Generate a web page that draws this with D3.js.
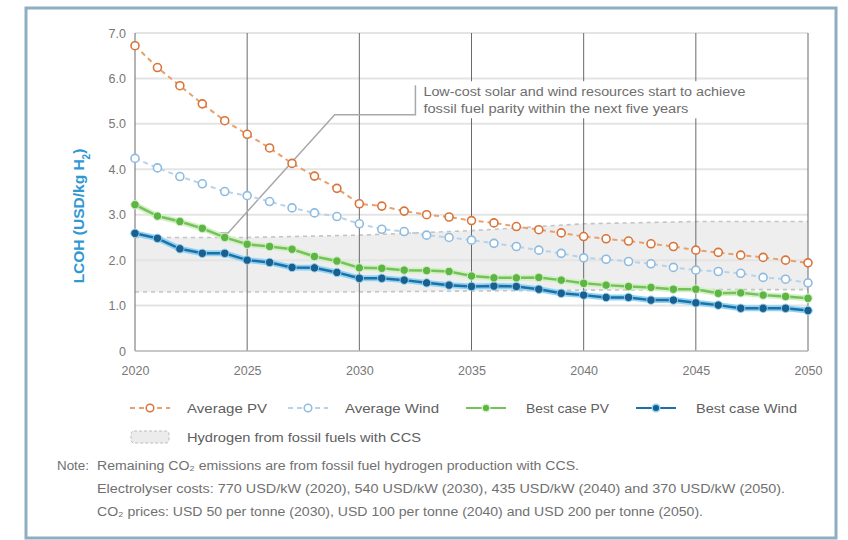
<!DOCTYPE html>
<html>
<head>
<meta charset="utf-8">
<script src="https://cdn.jsdelivr.net/npm/d3@7"></script>
<style>
  body { margin: 0; background: #fff; }
  svg text { font-family: "Liberation Sans", Arial, sans-serif; }
</style>
</head>
<body>
<div class="chart"></div>
<script>
var W = 848, H = 540;
var margin = {top: 33, right: 40, bottom: 189, left: 135};
var width = 808 - margin.left;
var height = 351 - margin.top;

// data
let years = d3.range(2020, 2051);
let averagePV = [6.72, 6.24, 5.84, 5.44, 5.07, 4.77, 4.47, 4.13, 3.85, 3.58, 3.24,
  3.19, 3.08, 3.0, 2.95, 2.87, 2.82, 2.74, 2.67, 2.6, 2.52,
  2.47, 2.42, 2.36, 2.3, 2.22, 2.17, 2.11, 2.06, 2.0, 1.94];
let averageWind = [4.24, 4.03, 3.84, 3.68, 3.51, 3.42, 3.29, 3.15, 3.04, 2.96, 2.8,
  2.68, 2.63, 2.55, 2.5, 2.44, 2.37, 2.3, 2.22, 2.15, 2.05,
  2.02, 1.97, 1.92, 1.84, 1.78, 1.75, 1.71, 1.62, 1.58, 1.5];
let bestPV = [3.22, 2.97, 2.85, 2.7, 2.5, 2.35, 2.3, 2.24, 2.08, 1.98, 1.83,
  1.82, 1.78, 1.77, 1.75, 1.65, 1.61, 1.61, 1.62, 1.56, 1.49,
  1.45, 1.42, 1.4, 1.36, 1.36, 1.27, 1.28, 1.23, 1.2, 1.16];
let bestWind = [2.59, 2.48, 2.25, 2.15, 2.15, 2.0, 1.95, 1.84, 1.83, 1.73, 1.6,
  1.6, 1.56, 1.5, 1.45, 1.42, 1.43, 1.42, 1.36, 1.27, 1.23,
  1.18, 1.18, 1.12, 1.12, 1.06, 1.01, 0.94, 0.94, 0.94, 0.89];
let fossilYears = [2020, 2025, 2030, 2035, 2040, 2045, 2050];
let fossilLow = [1.3, 1.3, 1.3, 1.32, 1.34, 1.35, 1.35];
let fossilHigh = [2.5, 2.5, 2.55, 2.65, 2.8, 2.85, 2.85];
let xTicks = [2020, 2025, 2030, 2035, 2040, 2045, 2050];
let yTicks = [0, 1, 2, 3, 4, 5, 6, 7];
let yLabels = ['0', '1.0', '2.0', '3.0', '4.0', '5.0', '6.0', '7.0'];
let annotationPath = [[2023.7, 2.6], [2024.15, 2.6], [2028.9, 5.2], [2032.5, 5.2], [2032.5, 5.85]];
let annotationText = ['Low-cost solar and wind resources start to achieve',
  'fossil fuel parity within the next five years'];
let annotationWidths = [322, 265];
let legendNames = ['Average PV', 'Average Wind', 'Best case PV', 'Best case Wind'];
let legendWidths = [80, 94, 83, 101];
let fossilLabel = 'Hydrogen from fossil fuels with CCS';
let noteLines = ['Remaining CO\u2082 emissions are from fossil fuel hydrogen production with CCS.',
  'Electrolyser costs: 770 USD/kW (2020), 540 USD/kW (2030), 435 USD/kW (2040) and 370 USD/kW (2050).',
  'CO\u2082 prices: USD 50 per tonne (2030), USD 100 per tonne (2040) and USD 200 per tonne (2050).'];
let noteWidths = [482, 688, 606];

let root = d3.select('.chart')
  .append('svg')
  .attr('width', W)
  .attr('height', H);

// frame
root.append('rect')
  .attr('x', 26).attr('y', 8)
  .attr('width', 810).attr('height', 530)
  .style('fill', 'none')
  .style('stroke', '#8daec3')
  .style('stroke-width', 3);

let svg = root.append('g')
  .attr('transform', `translate(${margin.left}, ${margin.top})`);

//scales
let xScale = d3.scaleLinear().domain([2020, 2050]).range([0, width]);
let yScale = d3.scaleLinear().domain([0, 7]).range([height, 0]);

// fossil band
let band = fossilYears.map((y, i) => ({year: y, low: fossilLow[i], high: fossilHigh[i]}));
svg.append('path')
  .datum(band)
  .attr('d', d3.area().x(d => xScale(d.year)).y0(d => yScale(d.low)).y1(d => yScale(d.high)))
  .style('fill', '#eeeeee');

// horizontal grid
svg.selectAll('.hgrid')
  .data(yTicks.filter(d => d > 0))
  .enter()
  .append('line')
  .attr('class', 'hgrid')
  .attr('x1', 0).attr('x2', width)
  .attr('y1', d => yScale(d)).attr('y2', d => yScale(d))
  .style('stroke', '#e4e4e4')
  .style('stroke-width', 2);

['low', 'high'].forEach(k => {
  svg.append('path')
    .datum(band)
    .attr('d', d3.line().x(d => xScale(d.year)).y(d => yScale(d[k])))
    .style('fill', 'none')
    .style('stroke', '#c4c4c4')
    .style('stroke-width', 1.6)
    .style('stroke-dasharray', '4,4');
});

// vertical grid
svg.selectAll('.vgrid')
  .data(xTicks)
  .enter()
  .append('line')
  .attr('class', 'vgrid')
  .attr('x1', d => xScale(d)).attr('x2', d => xScale(d))
  .attr('y1', yScale(7)).attr('y2', height)
  .style('stroke', '#6a6a6a')
  .style('stroke-width', 1);

svg.append('line')
  .attr('x1', 0).attr('x2', width)
  .attr('y1', height).attr('y2', height)
  .style('stroke', '#b5b5b5')
  .style('stroke-width', 1.5);

// axes
let xAxis = d3.axisBottom(xScale).tickValues(xTicks).tickFormat(d3.format('d')).tickSize(0).tickPadding(15);
let gx = svg.append('g').attr('transform', `translate(0, ${height})`).call(xAxis);
gx.select('.domain').remove();
gx.selectAll('text').style('fill', '#777').style('font-size', '12.5px');

let yAxis = d3.axisLeft(yScale).tickValues(yTicks).tickFormat((d, i) => yLabels[i]).tickSize(0).tickPadding(9);
let gy = svg.append('g').call(yAxis);
gy.select('.domain').remove();
gy.selectAll('text').style('fill', '#777').style('font-size', '12.5px');

let yTitle = root.append('text')
  .attr('transform', `translate(84, 216) rotate(-90)`)
  .style('text-anchor', 'middle')
  .style('fill', '#3198d3')
  .style('font-weight', 'bold')
  .style('font-size', '15.5px');
yTitle.append('tspan').text('LCOH (USD/kg H');
yTitle.append('tspan').attr('baseline-shift', 'sub').style('font-size', '10px').text('2');
yTitle.append('tspan').text(')');

// annotation
let annX = xScale(2032.5);
let annY = yScale(5.85);
svg.append('rect')
  .attr('x', annX + 1).attr('y', annY - 4)
  .attr('width', 340).attr('height', 37)
  .style('fill', '#fff');

svg.append('path')
  .datum(annotationPath)
  .attr('d', d3.line().x(d => xScale(d[0])).y(d => yScale(d[1])))
  .style('fill', 'none')
  .style('stroke', '#a8a8a8')
  .style('stroke-width', 1.5);

svg.selectAll('.annot')
  .data(annotationText)
  .enter()
  .append('text')
  .attr('x', annX + 8)
  .attr('y', (d, i) => annY + 11 + i * 17)
  .attr('textLength', (d, i) => annotationWidths[i])
  .attr('lengthAdjust', 'spacingAndGlyphs')
  .style('fill', '#6e6e6e')
  .style('font-size', '12px')
  .text(d => d);

// series
let series = [
  {values: averagePV, color: '#e8a06c', marker: '#d9743a', dash: '5,4', open: true, halo: null},
  {values: averageWind, color: '#b7d3ec', marker: '#8ebbe0', dash: '5,4', open: true, halo: null},
  {values: bestPV, color: '#76c25a', marker: '#5db544', dash: null, open: false, halo: '#d3f0c6'},
  {values: bestWind, color: '#1d6fa5', marker: '#1a5f8e', dash: null, open: false, halo: '#8fd3f4'}
];
series.forEach((s, i) => { s.name = legendNames[i]; s.labelWidth = legendWidths[i]; });

let line = d3.line().x(d => xScale(d.year)).y(d => yScale(d.v));

series.slice().reverse().forEach(s => {
  let pts = years.map((y, i) => ({year: y, v: s.values[i]}));
  let g = svg.append('g');
  if (s.halo) {
    g.append('path').datum(pts).attr('d', line)
      .style('fill', 'none').style('stroke', s.halo).style('stroke-width', 6);
  }
  g.append('path').datum(pts).attr('d', line)
    .style('fill', 'none')
    .style('stroke', s.color)
    .style('stroke-width', s.open ? 2 : 2.5)
    .style('stroke-dasharray', s.dash);
  g.selectAll('circle')
    .data(pts)
    .enter()
    .append('circle')
    .attr('cx', d => xScale(d.year))
    .attr('cy', d => yScale(d.v))
    .attr('r', s.open ? 4 : 4.2)
    .style('fill', s.open ? '#fff' : s.marker)
    .style('stroke', s.open ? s.marker : (s.halo || s.marker))
    .style('stroke-width', s.open ? 1.6 : 1);
});

// legend
let legendX = [130, 288, 466, 636];
let legend = root.selectAll('.legend')
  .data(series)
  .enter()
  .append('g')
  .attr('class', 'legend')
  .attr('transform', (d, i) => `translate(${legendX[i]}, 408)`);

legend.append('line')
  .attr('x1', 0).attr('x2', 40).attr('y1', 0).attr('y2', 0)
  .style('stroke', d => d.color)
  .style('stroke-width', 2.2)
  .style('stroke-dasharray', d => d.dash);
legend.append('circle')
  .attr('cx', 20).attr('cy', 0).attr('r', 3.8)
  .style('fill', d => d.open ? '#fff' : d.marker)
  .style('stroke', d => d.open ? d.marker : (d.halo || d.marker))
  .style('stroke-width', 1.5);
legend.append('text')
  .attr('x', (d, i) => i < 2 ? 57 : 60).attr('y', 4.5)
  .attr('textLength', d => d.labelWidth)
  .attr('lengthAdjust', 'spacingAndGlyphs')
  .style('fill', '#606060')
  .style('font-size', '13px')
  .text(d => d.name);

let fossilLegend = root.append('g').attr('transform', 'translate(131, 437)');
fossilLegend.append('rect')
  .attr('x', 0).attr('y', -6).attr('width', 38).attr('height', 12).attr('rx', 3)
  .style('fill', '#ececec')
  .style('stroke', '#bdbdbd')
  .style('stroke-dasharray', '3,2');
fossilLegend.append('text')
  .attr('x', 56).attr('y', 4.5)
  .attr('textLength', 234)
  .attr('lengthAdjust', 'spacingAndGlyphs')
  .style('fill', '#606060')
  .style('font-size', '13px')
  .text(fossilLabel);

// note
let note = root.append('g').style('fill', '#707070').style('font-size', '12px');
note.append('text').attr('x', 57).attr('y', 470)
  .attr('textLength', 32).attr('lengthAdjust', 'spacingAndGlyphs').text('Note:');
note.selectAll('.noteline')
  .data(noteLines)
  .enter()
  .append('text')
  .attr('x', 97)
  .attr('y', (d, i) => 470 + i * 23)
  .attr('textLength', (d, i) => noteWidths[i])
  .attr('lengthAdjust', 'spacingAndGlyphs')
  .text(d => d);
</script>
</body>
</html>
